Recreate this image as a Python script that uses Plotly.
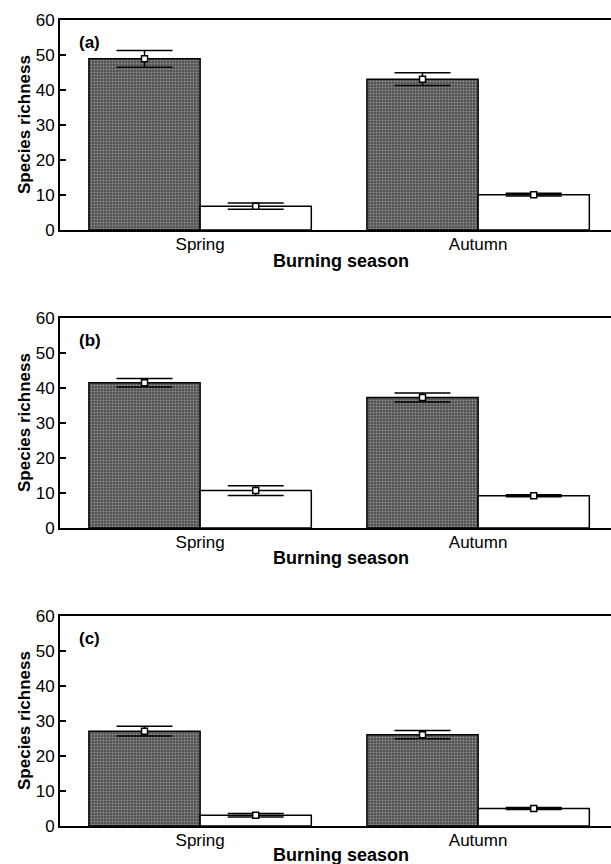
import plotly.graph_objects as go

# Burning season categories and panel labels
seasons = ["Spring", "Autumn"]
panel_labels = ["(a)", "(b)", "(c)"]

# Shaded bars: mean species richness and standard error per season
shaded_a = [48.9, 43.1]
shaded_a_err = [2.4, 1.8]
shaded_b = [41.5, 37.3]
shaded_b_err = [1.2, 1.3]
shaded_c = [27.1, 26.1]
shaded_c_err = [1.4, 1.2]

# Open bars: mean species richness and standard error per season
open_a = [6.8, 10.1]
open_a_err = [0.9, 0.4]
open_b = [10.7, 9.2]
open_b_err = [1.4, 0.3]
open_c = [3.1, 5.0]
open_c_err = [0.5, 0.3]

y_ticks = [0, 10, 20, 30, 40, 50, 60]

panels = [
    (shaded_a, shaded_a_err, open_a, open_a_err),
    (shaded_b, shaded_b_err, open_b, open_b_err),
    (shaded_c, shaded_c_err, open_c, open_c_err),
]

W, H = 611, 864
M_L, M_R, M_T, M_B = 60, 0, 20, 38
plot_h = H - M_T - M_B
panel_tops = [20, 318, 616]
panel_h = 210
title_shift = [-31, -30, -29]

FONT = "Liberation Sans, Arial, Helvetica, sans-serif"
BAR_W = 0.4
pos = list(range(len(seasons)))

fig = go.Figure()

for i, (sh, sh_err, op, op_err) in enumerate(panels):
    n = "" if i == 0 else str(i + 1)
    xa, ya = "x" + n, "y" + n

    fig.add_trace(go.Bar(
        x=pos, y=sh, offset=-BAR_W, width=BAR_W, xaxis=xa, yaxis=ya,
        marker=dict(
            color="#505050",
            line=dict(color="black", width=1.5),
            pattern=dict(shape=".", fgcolor="#d0d0d0", bgcolor="#505050",
                         size=3, solidity=0.35),
        ),
        showlegend=False,
    ))
    fig.add_trace(go.Bar(
        x=pos, y=op, offset=0, width=BAR_W, xaxis=xa, yaxis=ya,
        marker=dict(color="white", line=dict(color="black", width=1.5)),
        showlegend=False,
    ))
    # means with error bars, centred on each bar
    for vals, errs, shift in ((sh, sh_err, -BAR_W / 2), (op, op_err, BAR_W / 2)):
        fig.add_trace(go.Scatter(
            x=[p + shift for p in pos], y=vals, mode="markers",
            xaxis=xa, yaxis=ya,
            marker=dict(symbol="square", size=6, color="white",
                        line=dict(color="black", width=1.5)),
            error_y=dict(type="data", array=errs, visible=True,
                         color="black", thickness=1.5, width=28),
            showlegend=False,
        ))

    top = panel_tops[i]
    d_top = 1 - (top - M_T) / plot_h
    d_bot = max(0.0, 1 - (top + panel_h - M_T) / plot_h)

    fig.update_layout(**{
        "xaxis" + n: dict(
            domain=[0, 1], anchor=ya, range=[-0.504, 1.478],
            tickmode="array", tickvals=pos, ticktext=seasons,
            ticks="", showgrid=False, zeroline=False, ticklabelstandoff=-2,
            showline=True, linecolor="black", linewidth=2, mirror=True,
            tickfont=dict(family=FONT, size=17, color="black"),
        ),
        "yaxis" + n: dict(
            domain=[d_bot, d_top], anchor=xa, range=[0, 60],
            tickmode="array", tickvals=y_ticks,
            ticks="inside", ticklen=6, tickwidth=1.5, tickcolor="black",
            showgrid=False, zeroline=False,
            showline=True, linecolor="black", linewidth=2,
            tickfont=dict(family=FONT, size=17, color="black"),
        ),
    })

    fig.add_annotation(
        x=-0.442, y=53.7, xref=xa, yref=ya, text="<b>" + panel_labels[i] + "</b>",
        showarrow=False, xanchor="left", yanchor="middle",
        font=dict(family=FONT, size=17, color="black"),
    )
    fig.add_annotation(
        x=(24 - M_L) / (W - M_L - M_R), xref="paper",
        y=0.5, yref=ya + " domain", text="<b>Species richness</b>",
        textangle=-90, showarrow=False, xanchor="center", yanchor="middle",
        font=dict(family=FONT, size=17, color="black"),
    )
    fig.add_annotation(
        x=(341 - M_L) / (W - M_L - M_R), xref="paper",
        y=0, yref=ya + " domain", yshift=title_shift[i], text="<b>Burning season</b>",
        showarrow=False, xanchor="center", yanchor="middle",
        font=dict(family=FONT, size=18, color="black"),
    )

fig.update_layout(
    width=W, height=H,
    margin=dict(l=M_L, r=M_R, t=M_T, b=M_B),
    barmode="overlay",
    plot_bgcolor="white", paper_bgcolor="white",
)

fig.write_html("out.html")
